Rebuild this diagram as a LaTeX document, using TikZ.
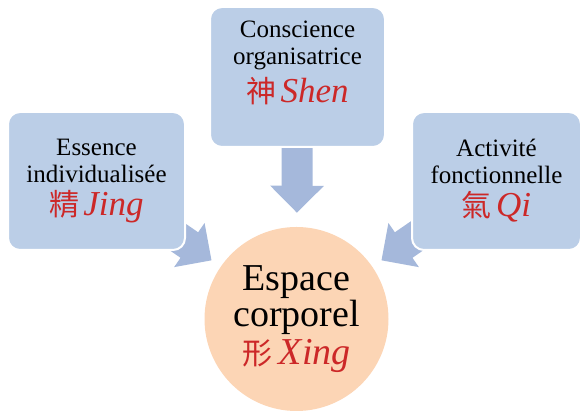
\documentclass[tikz,border=0pt]{standalone}
\usepackage{fontspec}
\setmainfont{Liberation Serif}
\newfontfamily\cjk{Noto Sans CJK TC}
\usepackage{xcolor}
\usetikzlibrary{arrows.meta, backgrounds}

\definecolor{boxblue}{RGB}{187,206,231}
\definecolor{arrowblue}{RGB}{165,184,219}
\definecolor{peach}{RGB}{252,213,181}
\definecolor{hanred}{RGB}{204,40,40}

% chinese name and pinyin
\newcommand{\hanzi}[3]{{\color{hanred}{\cjk\fontsize{#3}{#3}\selectfont #1}\,{\fontsize{35}{35}\selectfont\itshape #2}}}

\begin{document}
\begin{tikzpicture}[x=1pt, y=1pt,
    idea/.style={draw=white, line width=2pt, fill=boxblue, rounded corners=12pt,
        align=center, inner sep=0pt, font=\fontsize{25}{27}\selectfont},
    body/.style={circle, fill=peach, minimum size=184pt, inner sep=0pt,
        align=center, font=\fontsize{38}{36}\selectfont},
    flow/.style={arrowblue, line width=31pt, -{Triangle[width=52pt, length=27pt]}}]
                \useasboundingbox (0,0) rectangle (582,414);

                % three boxes
                \node[idea, minimum width=177pt, minimum height=138pt] (jing) at (96.5,233)
                    {Essence\\individualisée\\[6pt]\hanzi{精}{Jing}{30}};
                \node[idea, minimum width=175pt, minimum height=140pt] (shen) at (297.5,337)
                    {Conscience\\organisatrice\\[6pt]\hanzi{神}{Shen}{30}\\[3pt]};
                \node[idea, minimum width=169pt, minimum height=138pt] (qi) at (496.5,233)
                    {Activité\\fonctionnelle\\[6pt]\hanzi{氣}{Qi}{30}};

                % body
                \node[body] (xing) at (296.5,95)
                    {Espace\\corporel\\[2pt]{\color{hanred}{\cjk\fontsize{30}{30}\selectfont 形}\,\itshape Xing}};

                % arrows behind the boxes
                \begin{scope}[on background layer]
                    \draw[flow, shorten >=14pt] (shen.center) -- (xing);
                    \draw[flow, shorten >=11pt] (jing.center) -- (xing);
                    \draw[flow, shorten >=11pt] (qi.center) -- (xing);
                \end{scope}
            \end{tikzpicture}
\end{document}
